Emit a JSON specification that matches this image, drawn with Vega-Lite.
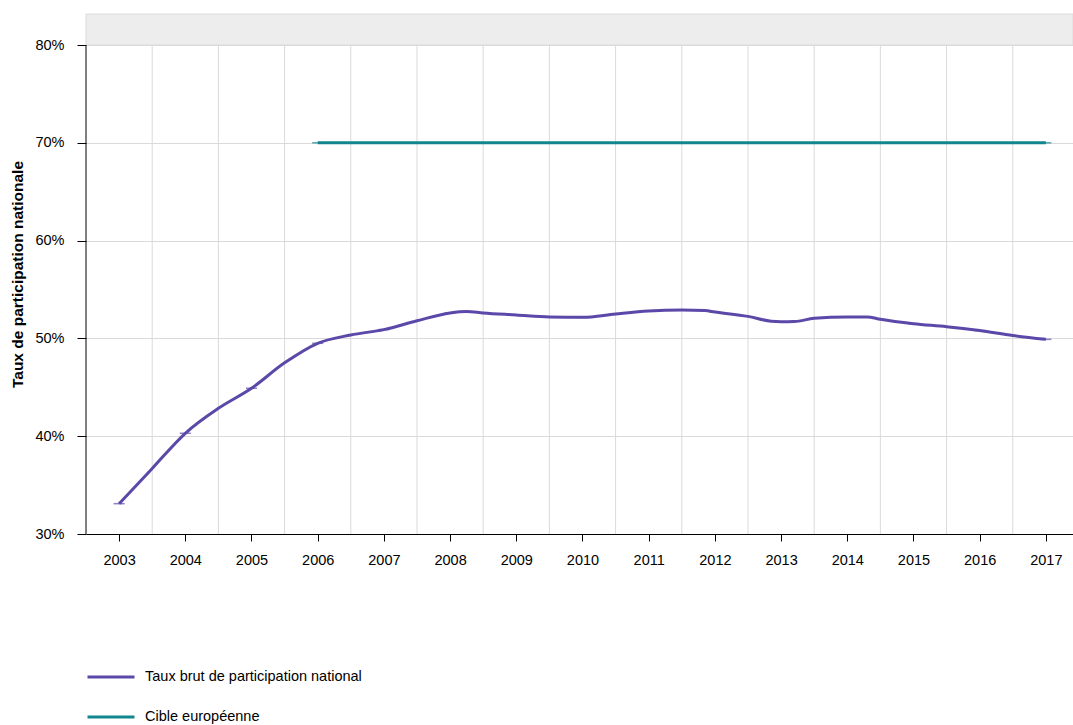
{
  "$schema": "https://vega.github.io/schema/vega-lite/v6.json",
  "width": 987,
  "height": 520,
  "autosize": {"type": "none"},
  "padding": {"left": 86, "top": 14, "right": 0, "bottom": 191},
  "background": "white",
  "config": {
    "font": "Liberation Sans",
    "view": {"stroke": null},
    "axis": {
      "labelFontSize": 14.5,
      "labelColor": "#000000",
      "domainColor": "#000000",
      "tickColor": "#000000",
      "domainWidth": 1,
      "tickWidth": 1,
      "titleColor": "#000000"
    }
  },
  "datasets": {
    "series": [
      {"annee": 2003, "taux": 33.1, "serie": "Taux brut de participation national"},
      {"annee": 2003.5, "taux": 36.7, "serie": "Taux brut de participation national"},
      {"annee": 2004, "taux": 40.3, "serie": "Taux brut de participation national"},
      {"annee": 2004.5, "taux": 42.85, "serie": "Taux brut de participation national"},
      {"annee": 2005, "taux": 44.9, "serie": "Taux brut de participation national"},
      {"annee": 2005.5, "taux": 47.5, "serie": "Taux brut de participation national"},
      {"annee": 2006, "taux": 49.5, "serie": "Taux brut de participation national"},
      {"annee": 2006.5, "taux": 50.35, "serie": "Taux brut de participation national"},
      {"annee": 2007, "taux": 50.9, "serie": "Taux brut de participation national"},
      {"annee": 2007.5, "taux": 51.8, "serie": "Taux brut de participation national"},
      {"annee": 2008, "taux": 52.6, "serie": "Taux brut de participation national"},
      {"annee": 2008.25, "taux": 52.75, "serie": "Taux brut de participation national"},
      {"annee": 2008.5, "taux": 52.6, "serie": "Taux brut de participation national"},
      {"annee": 2009, "taux": 52.4, "serie": "Taux brut de participation national"},
      {"annee": 2009.5, "taux": 52.2, "serie": "Taux brut de participation national"},
      {"annee": 2010, "taux": 52.15, "serie": "Taux brut de participation national"},
      {"annee": 2010.5, "taux": 52.5, "serie": "Taux brut de participation national"},
      {"annee": 2011, "taux": 52.8, "serie": "Taux brut de participation national"},
      {"annee": 2011.5, "taux": 52.9, "serie": "Taux brut de participation national"},
      {"annee": 2011.85, "taux": 52.85, "serie": "Taux brut de participation national"},
      {"annee": 2012, "taux": 52.7, "serie": "Taux brut de participation national"},
      {"annee": 2012.5, "taux": 52.25, "serie": "Taux brut de participation national"},
      {"annee": 2012.85, "taux": 51.75, "serie": "Taux brut de participation national"},
      {"annee": 2013, "taux": 51.7, "serie": "Taux brut de participation national"},
      {"annee": 2013.2, "taux": 51.72, "serie": "Taux brut de participation national"},
      {"annee": 2013.5, "taux": 52.05, "serie": "Taux brut de participation national"},
      {"annee": 2014, "taux": 52.2, "serie": "Taux brut de participation national"},
      {"annee": 2014.3, "taux": 52.2, "serie": "Taux brut de participation national"},
      {"annee": 2014.5, "taux": 51.95, "serie": "Taux brut de participation national"},
      {"annee": 2015, "taux": 51.5, "serie": "Taux brut de participation national"},
      {"annee": 2015.5, "taux": 51.2, "serie": "Taux brut de participation national"},
      {"annee": 2016, "taux": 50.8, "serie": "Taux brut de participation national"},
      {"annee": 2016.5, "taux": 50.3, "serie": "Taux brut de participation national"},
      {"annee": 2017, "taux": 49.9, "serie": "Taux brut de participation national"},
      {"annee": 2006, "taux": 70, "serie": "Cible européenne"},
      {"annee": 2017, "taux": 70, "serie": "Cible européenne"}
    ],
    "grille": [
      {"limite": 2003.5}, {"limite": 2004.5}, {"limite": 2005.5}, {"limite": 2006.5},
      {"limite": 2007.5}, {"limite": 2008.5}, {"limite": 2009.5}, {"limite": 2010.5},
      {"limite": 2011.5}, {"limite": 2012.5}, {"limite": 2013.5}, {"limite": 2014.5},
      {"limite": 2015.5}, {"limite": 2016.5}
    ]
  },
  "layer": [
    {
      "data": {"values": [{"zone": "entête"}]},
      "mark": {"type": "rect", "fill": "#ededed", "stroke": "#dcdcdc", "strokeWidth": 1},
      "encoding": {
        "y": {"datum": 80, "type": "quantitative"},
        "y2": {"datum": 83.17}
      }
    },
    {
      "data": {"name": "grille"},
      "mark": {"type": "rule", "color": "#dadada", "strokeWidth": 1},
      "encoding": {
        "x": {"field": "limite", "type": "quantitative"},
        "y": {"datum": 30, "type": "quantitative"},
        "y2": {"datum": 80}
      }
    },
    {
      "data": {"name": "series"},
      "mark": {"type": "line", "interpolate": "monotone", "strokeWidth": 3},
      "encoding": {
        "x": {
          "field": "annee",
          "type": "quantitative",
          "scale": {"domain": [2002.5, 2017.41], "nice": false, "zero": false},
          "axis": {
            "title": null,
            "values": [2003, 2004, 2005, 2006, 2007, 2008, 2009, 2010, 2011, 2012, 2013, 2014, 2015, 2016, 2017],
            "format": "d",
            "grid": false,
            "tickSize": 7,
            "labelPadding": 12
          }
        },
        "y": {
          "field": "taux",
          "type": "quantitative",
          "scale": {"domain": [30, 83.17], "nice": false, "zero": false},
          "axis": {
            "title": "Taux de participation nationale",
            "values": [30, 40, 50, 60, 70, 80],
            "labelExpr": "datum.value + '%'",
            "grid": true,
            "gridColor": "#dadada",
            "domain": false,
            "tickSize": 9,
            "labelPadding": 13,
            "titleFontSize": 15.5,
            "titleFontWeight": "bold",
            "titlePadding": 9
          }
        },
        "color": {
          "field": "serie",
          "type": "nominal",
          "sort": null,
          "scale": {
            "domain": ["Taux brut de participation national", "Cible européenne"],
            "range": ["#5b48a8", "#11868f"]
          },
          "legend": {
            "orient": "none",
            "legendX": 0,
            "legendY": 638,
            "title": null,
            "direction": "vertical",
            "symbolType": "stroke",
            "symbolSize": 2209,
            "symbolStrokeWidth": 3,
            "labelFontSize": 14.5,
            "labelColor": "#000000",
            "labelLimit": 600,
            "labelOffset": 9,
            "rowPadding": 8
          }
        }
      }
    },
    {
      "data": {"name": "series"},
      "transform": [{"filter": "datum.annee % 1 == 0"}],
      "mark": {"type": "tick", "orient": "horizontal", "size": 11, "thickness": 1.5},
      "encoding": {
        "x": {"field": "annee", "type": "quantitative"},
        "y": {"field": "taux", "type": "quantitative"},
        "color": {"field": "serie", "type": "nominal", "legend": null}
      }
    },
    {
      "data": {"values": [{"axe": "vertical"}]},
      "mark": {"type": "rule", "color": "#000000", "strokeWidth": 1},
      "encoding": {
        "x": {"datum": 2002.5, "type": "quantitative"},
        "y": {"datum": 30, "type": "quantitative"},
        "y2": {"datum": 80}
      }
    }
  ]
}
